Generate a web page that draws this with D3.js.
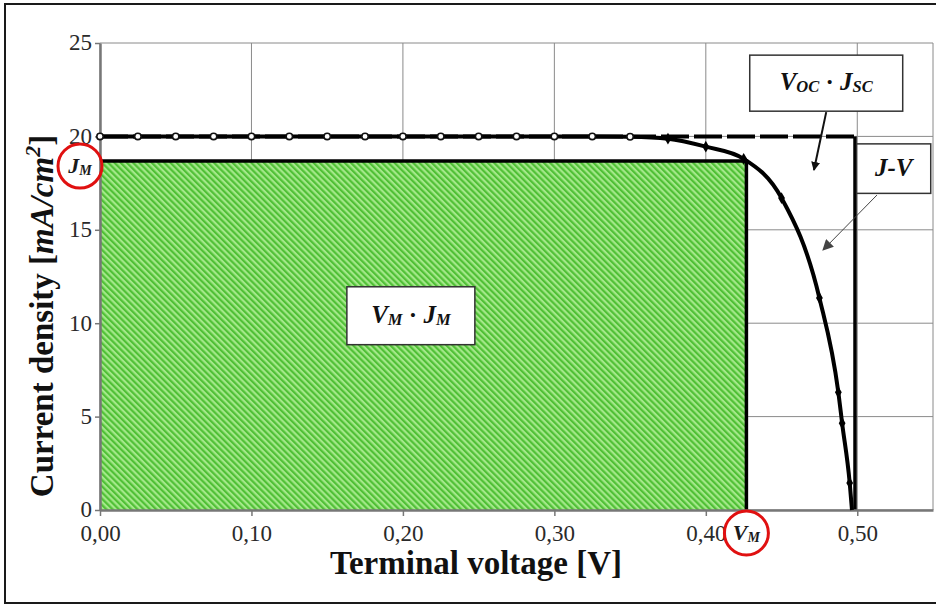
<!DOCTYPE html>
<html>
<head>
<meta charset="utf-8">
<script src="https://cdn.jsdelivr.net/npm/d3@7/dist/d3.min.js"></script>
<style>
  html, body { margin: 0; padding: 0; background: #fff; }
  svg { display: block; }
  text { font-family: "Liberation Serif", "DejaVu Serif", serif; }
</style>
</head>
<body>
<svg id="chart" width="936" height="605"></svg>
<script>
// J-V characteristic of the cell (V in volts, J in mA/cm²)
const voltage = [0, 0.025, 0.05, 0.075, 0.1, 0.125, 0.15, 0.175, 0.2, 0.225, 0.25, 0.275,
                 0.3, 0.325, 0.35, 0.375, 0.4, 0.425, 0.45, 0.475, 0.4875, 0.49, 0.495, 0.4965];
const current = [20, 20, 20, 20, 20, 20, 20, 20, 20, 20, 20, 20,
                 20, 20, 19.98, 19.88, 19.45, 18.8, 16.7, 11.35, 6.3, 4.65, 1.45, 0];

// Characteristic points
const Jsc = 20;      // short-circuit current density
const Voc = 0.4985;  // open-circuit voltage
const Vm = 0.4268;   // voltage at maximum power
const Jm = 18.68;    // current density at maximum power

// Axis ticks
const xTicks = [0, 0.1, 0.2, 0.3, 0.4, 0.5];
const xTickLabels = ["0,00", "0,10", "0,20", "0,30", "0,40", "0,50"];
const yTicks = [0, 5, 10, 15, 20, 25];
const yTickLabels = ["0", "5", "10", "15", "20", "25"];

const svg = d3.select("#chart");

const x = d3.scaleLinear().domain([0, 0.55]).range([100, 933]);
const y = d3.scaleLinear().domain([0, 25]).range([510, 43]);

// Outer frame
svg.append("rect")
  .attr("x", 5).attr("y", 4).attr("width", 940).attr("height", 599)
  .attr("fill", "#fff").attr("stroke", "#1a1a1a").attr("stroke-width", 2);

// Diagonal green hatch
const defs = svg.append("defs");
const pat = defs.append("pattern")
  .attr("id", "hatch").attr("patternUnits", "userSpaceOnUse")
  .attr("width", 4.4).attr("height", 4.4)
  .attr("patternTransform", "rotate(-45)");
pat.append("rect").attr("width", 4.4).attr("height", 4.4).attr("fill", "#a4e88a");
pat.append("rect").attr("width", 2.2).attr("height", 4.4).attr("fill", "#50c036");

// Arrowheads
defs.append("marker")
  .attr("id", "headSolid").attr("viewBox", "0 0 10 10")
  .attr("refX", 9).attr("refY", 5).attr("markerWidth", 9).attr("markerHeight", 9)
  .attr("markerUnits", "userSpaceOnUse").attr("orient", "auto")
  .append("path").attr("d", "M0,0 L10,5 L0,10 Z").attr("fill", "#111");
defs.append("marker")
  .attr("id", "headThin").attr("viewBox", "0 0 10 10")
  .attr("refX", 9).attr("refY", 5).attr("markerWidth", 11).attr("markerHeight", 11)
  .attr("markerUnits", "userSpaceOnUse").attr("orient", "auto")
  .append("path").attr("d", "M0,0 L10,5 L0,10 Z").attr("fill", "#444");

// Gridlines
const grid = svg.append("g").attr("stroke", "#8a8a8a").attr("stroke-width", 1);
xTicks.concat([0.55]).forEach(v => {
  grid.append("line").attr("x1", x(v)).attr("x2", x(v)).attr("y1", y(0)).attr("y2", y(25));
});
yTicks.forEach(v => {
  grid.append("line").attr("x1", x(0)).attr("x2", x(0.55)).attr("y1", y(v)).attr("y2", y(v));
});

// Maximum power rectangle Vm · Jm
svg.append("rect")
  .attr("x", x(0)).attr("y", y(Jm))
  .attr("width", x(Vm) - x(0)).attr("height", y(0) - y(Jm))
  .attr("fill", "url(#hatch)");
svg.append("path")
  .attr("d", `M${x(0)},${y(Jm)} H${x(Vm)} V${y(0)}`)
  .attr("fill", "none").attr("stroke", "#000").attr("stroke-width", 3.5);

// Voc · Jsc rectangle (dashed top, solid right side)
svg.append("line")
  .attr("x1", x(0)).attr("x2", x(Voc)).attr("y1", y(Jsc)).attr("y2", y(Jsc))
  .attr("stroke", "#000").attr("stroke-width", 4).attr("stroke-dasharray", "28,5");
svg.append("line")
  .attr("x1", x(Voc)).attr("x2", x(Voc)).attr("y1", y(Jsc)).attr("y2", y(0))
  .attr("stroke", "#000").attr("stroke-width", 3.5);

// Axes
const xAxis = svg.append("g").attr("transform", `translate(0,${y(0)})`)
  .call(d3.axisBottom(x).tickValues(xTicks).tickSize(6).tickSizeOuter(0)
    .tickFormat((d, i) => xTickLabels[i]));
const yAxis = svg.append("g").attr("transform", `translate(${x(0)},0)`)
  .call(d3.axisLeft(y).tickValues(yTicks).tickSize(5).tickSizeOuter(0)
    .tickFormat((d, i) => yTickLabels[i]));
[xAxis, yAxis].forEach(a => {
  a.select(".domain").attr("stroke", "#777").attr("stroke-width", 2.5);
  a.selectAll(".tick line").attr("stroke", "#777").attr("stroke-width", 1.5);
  a.selectAll(".tick text").attr("fill", "#2a2a2a")
    .style("font-family", "'Liberation Serif', serif").style("font-size", "23px");
});
xAxis.selectAll(".tick text").attr("dy", "0.95em").attr("y", 9);
yAxis.selectAll(".tick text").attr("x", -8).attr("dy", "0.3em");

// J-V curve
const line = d3.line().x((d, i) => x(voltage[i])).y((d, i) => y(current[i]))
  .curve(d3.curveMonotoneX);
svg.append("path")
  .datum(voltage)
  .attr("d", line)
  .attr("fill", "none").attr("stroke", "#000").attr("stroke-width", 4);

const pts = voltage.map((v, i) => ({ v, j: current[i] }));
svg.append("g").selectAll("circle")
  .data(pts.filter(d => d.j >= 19.95))
  .join("circle")
  .attr("cx", d => x(d.v)).attr("cy", d => y(d.j)).attr("r", 3.2)
  .attr("fill", "#fff").attr("stroke", "#111").attr("stroke-width", 1.6);
svg.append("g").selectAll("path")
  .data(pts.filter(d => d.j < 19.95 && d.j > 0))
  .join("path")
  .attr("transform", d => `translate(${x(d.v)},${y(d.j)})`)
  .attr("d", d3.symbol(d3.symbolDiamond, 40))
  .attr("fill", "#000");

// Annotation boxes (positioned in data coordinates)
function labelBox(x0, x1, jTop, jBot, parts, size) {
  svg.append("rect")
    .attr("x", x(x0)).attr("y", y(jTop))
    .attr("width", x(x1) - x(x0)).attr("height", y(jBot) - y(jTop))
    .attr("fill", "#fff").attr("stroke", "#333").attr("stroke-width", 1.5);
  const t = svg.append("text")
    .attr("x", (x(x0) + x(x1)) / 2).attr("y", (y(jTop) + y(jBot)) / 2 + 7)
    .attr("text-anchor", "middle")
    .attr("font-weight", "bold").attr("font-style", "italic")
    .attr("font-size", size).attr("fill", "#111");
  parts.forEach(p => {
    t.append("tspan").text(p.t)
      .attr("font-size", p.sub ? size * 0.66 : size)
      .attr("dy", p.dy || 0)
      .attr("font-style", p.up ? "normal" : "italic");
  });
}

labelBox(0.429, 0.530, 24.35, 21.35, [
  { t: "V" }, { t: "OC", sub: true, dy: 2 }, { t: " · ", dy: -2, up: true },
  { t: "J" }, { t: "SC", sub: true, dy: 2 }
], 25);
labelBox(0.4996, 0.5485, 19.6, 16.95, [{ t: "J-V" }], 25);
labelBox(0.163, 0.2475, 11.95, 8.85, [
  { t: "V" }, { t: "M", sub: true, dy: 2 }, { t: " · ", dy: -2, up: true },
  { t: "J" }, { t: "M", sub: true, dy: 2 }
], 25);

// Arrows
svg.append("line")
  .attr("x1", x(0.4795)).attr("y1", y(21.3)).attr("x2", x(0.4714)).attr("y2", y(18.2))
  .attr("stroke", "#111").attr("stroke-width", 2).attr("marker-end", "url(#headSolid)");
svg.append("line")
  .attr("x1", x(0.513)).attr("y1", y(16.86)).attr("x2", x(0.4774)).attr("y2", y(13.92))
  .attr("stroke", "#444").attr("stroke-width", 1).attr("marker-end", "url(#headThin)");

// Jm and Vm callouts with red circles
function callout(cx, cy, main, sub) {
  const t = svg.append("text")
    .attr("x", cx).attr("y", cy + 7).attr("text-anchor", "middle")
    .attr("font-weight", "bold").attr("font-style", "italic")
    .attr("font-size", 22).attr("fill", "#1a1a1a");
  t.append("tspan").text(main);
  t.append("tspan").text(sub).attr("font-size", 14).attr("dy", 2);
  svg.append("circle")
    .attr("cx", cx).attr("cy", cy).attr("r", 22)
    .attr("fill", "none").attr("stroke", "#e01010").attr("stroke-width", 3);
}
callout(x(0) - 20, y(Jm) + 5, "J", "M");
callout(x(Vm), y(0) + 23, "V", "M");

// Axis titles
svg.append("text")
  .attr("x", 476).attr("y", 574).attr("text-anchor", "middle")
  .attr("font-weight", "bold").attr("font-size", 33).attr("fill", "#111")
  .text("Terminal voltage [V]");

const yt = svg.append("text")
  .attr("transform", "translate(53,316) rotate(-90)")
  .attr("text-anchor", "middle")
  .attr("font-weight", "bold").attr("font-size", 33).attr("fill", "#111");
yt.append("tspan").text("Current density [");
yt.append("tspan").text("mA/cm").attr("font-style", "italic");
yt.append("tspan").text("2").attr("font-style", "italic").attr("font-size", 22).attr("dy", -13);
yt.append("tspan").text("]").attr("dy", 13);
</script>
</body>
</html>
